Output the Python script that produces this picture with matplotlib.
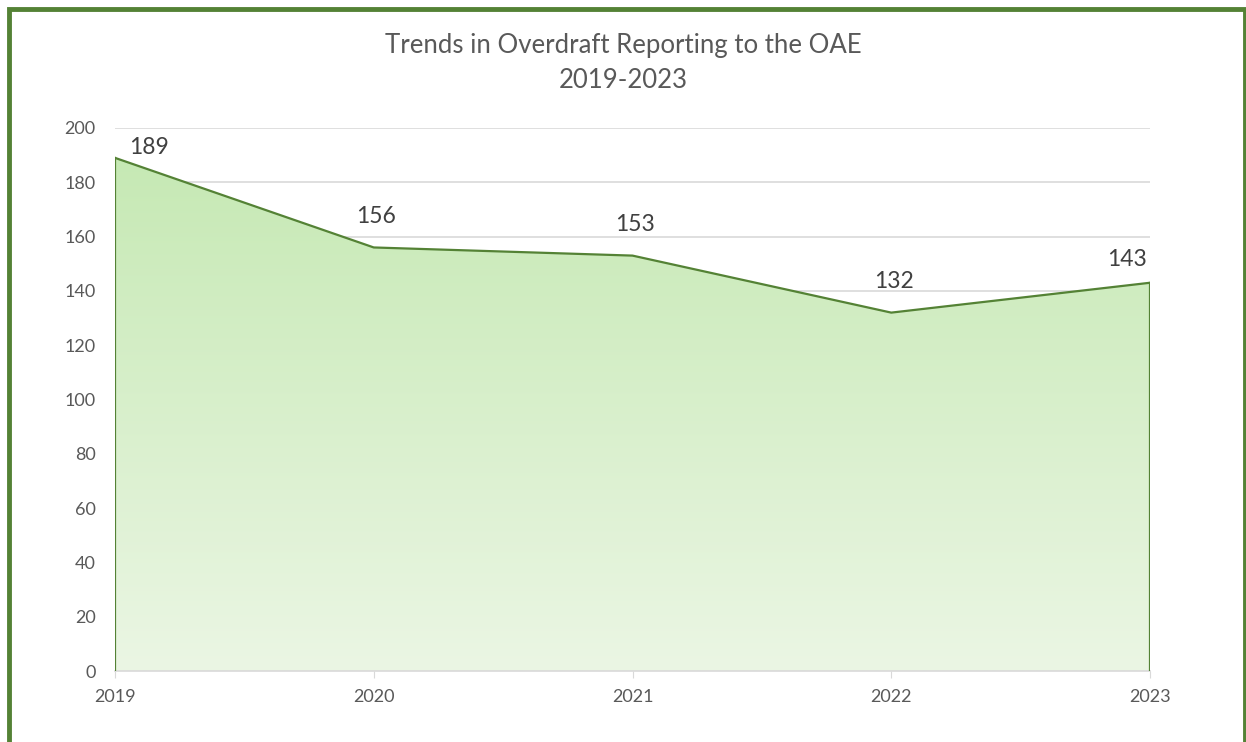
import matplotlib
matplotlib.use("Agg")
import matplotlib.pyplot as plt
import numpy as np
from matplotlib.patches import Rectangle
from matplotlib.colors import LinearSegmentedColormap

years = [2019, 2020, 2021, 2022, 2023]
reports = [189, 156, 153, 132, 143]
y_ticks = [0, 20, 40, 60, 80, 100, 120, 140, 160, 180, 200]

plt.rcParams['font.family'] = ['Lato', 'DejaVu Sans']
grey = '#595959'
green = '#548235'

fig = plt.figure(figsize=(12.46, 7.42), dpi=100)
ax = fig.add_axes([115 / 1246, 1 - 671 / 742, 1035 / 1246, 543 / 742])

# gradient fill under the line, clipped to the area polygon
area = ax.fill_between(years, reports, 0, facecolor='none', edgecolor='none')
cmap = LinearSegmentedColormap.from_list('g', ['#ebf6e4', '#c6e9b4'])
grad = np.linspace(0, 1, 256).reshape(-1, 1)
img = ax.imshow(grad, cmap=cmap, aspect='auto', origin='lower',
                extent=[years[0], years[-1], 0, max(reports)], zorder=1)
img.set_clip_path(area.get_paths()[0], transform=ax.transData)

ax.plot(years, reports, color=green, lw=1.6, zorder=3)
ax.plot([years[0], years[0]], [0, reports[0]], color=green, lw=1.6, zorder=3)
ax.plot([years[-1], years[-1]], [0, reports[-1]], color=green, lw=1.6, zorder=3)

ax.set_xlim(years[0], years[-1])
ax.set_ylim(0, 200)
ax.set_yticks(y_ticks)
ax.set_xticks(years)
ax.grid(axis='y', color='#d9d9d9', lw=1.2, zorder=0)
ax.set_axisbelow(True)
for s in ['top', 'right', 'left']:
    ax.spines[s].set_visible(False)
ax.spines['bottom'].set_color('#d9d9d9')
ax.spines['bottom'].set_linewidth(1.2)
ax.tick_params(axis='y', length=0, labelsize=13, labelcolor=grey, pad=14)
ax.tick_params(axis='x', length=5, color='#d9d9d9', labelsize=13,
               labelcolor=grey, pad=8)

# data labels
for i, (x, v) in enumerate(zip(years, reports)):
    if i == 0:
        ha, off = 'left', (10, 0)
    elif i == len(years) - 1:
        ha, off = 'right', (-2, 9)
    else:
        ha, off = 'center', (2, 15)
    ax.annotate(str(v), (x, v), xytext=off, textcoords='offset points',
                ha=ha, va='bottom', fontsize=16.5, color='#404040',
                annotation_clip=False)

fig.text(0.5, 1 - 45 / 742, 'Trends in Overdraft Reporting to the OAE',
         ha='center', va='center', fontsize=18.5, color=grey)
fig.text(0.5, 1 - 80 / 742, '2019-2023', ha='center', va='center',
         fontsize=18.5, color=grey)

# green frame around the chart
fig.patches.append(Rectangle((8.5 / 1246, -0.05), (1245 - 8.5) / 1246,
                             1.05 - 8.5 / 742, transform=fig.transFigure,
                             fill=False, edgecolor=green, lw=3.5))

fig.savefig('out.png', dpi=100)
